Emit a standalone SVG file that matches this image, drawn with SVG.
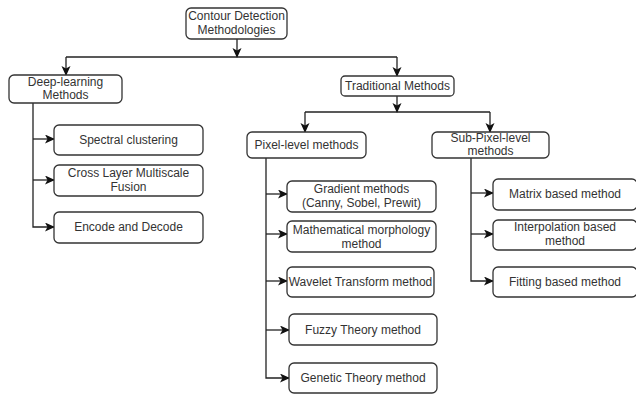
<svg xmlns="http://www.w3.org/2000/svg" width="636" height="394" viewBox="0 0 636 394">
<style>
.b{fill:#fff;stroke:#333;stroke-width:1.3}
.t{font-family:"Liberation Sans",Arial,sans-serif;font-size:12px;fill:#333;text-anchor:middle}
.c{fill:none;stroke:#222;stroke-width:1.3}
</style>
<defs>
<marker id="a" markerUnits="userSpaceOnUse" markerWidth="12" markerHeight="10" refX="9" refY="4.5" orient="auto">
<path d="M0,0 L10,4.5 L0,9 L2.5,4.5 Z" fill="#111"/>
</marker>
</defs>
<rect width="636" height="394" fill="#fff"/>
<g id="connectors">
<path class="c" d="M237,39 V57" marker-end="url(#a)"/>
<path class="c" d="M66,57 H397"/>
<path class="c" d="M66,57 V75" marker-end="url(#a)"/>
<path class="c" d="M397,57 V76" marker-end="url(#a)"/>
<path class="c" d="M397,96 V112" marker-end="url(#a)"/>
<path class="c" d="M305,112 H490"/>
<path class="c" d="M305,112 V132" marker-end="url(#a)"/>
<path class="c" d="M490,112 V132" marker-end="url(#a)"/>
<path class="c" d="M33,103 V227 H54" marker-end="url(#a)"/>
<path class="c" d="M33,139 H54" marker-end="url(#a)"/>
<path class="c" d="M33,180 H54" marker-end="url(#a)"/>
<path class="c" d="M266,158 V378 H289" marker-end="url(#a)"/>
<path class="c" d="M266,194 H287" marker-end="url(#a)"/>
<path class="c" d="M266,234 H287" marker-end="url(#a)"/>
<path class="c" d="M266,281 H287" marker-end="url(#a)"/>
<path class="c" d="M266,330 H289" marker-end="url(#a)"/>
<path class="c" d="M471,158 V281 H493" marker-end="url(#a)"/>
<path class="c" d="M471,193 H493" marker-end="url(#a)"/>
<path class="c" d="M471,234 H493" marker-end="url(#a)"/>
</g>
<g id="root"><rect class="b" x="186" y="8" width="101" height="31" rx="5"/><text class="t" x="236.5" y="20">Contour Detection</text><text class="t" x="236.5" y="34">Methodologies</text></g>
<g id="deep"><rect class="b" x="9" y="75" width="113" height="28" rx="5"/><text class="t" x="65.5" y="86">Deep-learning</text><text class="t" x="65.5" y="99">Methods</text></g>
<g id="spectral"><rect class="b" x="54" y="125" width="149" height="30" rx="5"/><text class="t" x="128.5" y="144">Spectral clustering</text></g>
<g id="cross"><rect class="b" x="54" y="165" width="149" height="31" rx="5"/><text class="t" x="128.5" y="177">Cross Layer Multiscale</text><text class="t" x="128.5" y="191">Fusion</text></g>
<g id="encode"><rect class="b" x="54" y="212" width="149" height="31" rx="5"/><text class="t" x="128.5" y="231">Encode and Decode</text></g>
<g id="traditional"><rect class="b" x="341" y="76" width="113" height="20" rx="4"/><text class="t" x="397.5" y="90">Traditional Methods</text></g>
<g id="pixel"><rect class="b" x="247" y="132" width="119" height="26" rx="5"/><text class="t" x="306.5" y="149">Pixel-level methods</text></g>
<g id="subpixel"><rect class="b" x="432" y="132" width="117" height="26" rx="5"/><text class="t" x="490.5" y="142">Sub-Pixel-level</text><text class="t" x="490.5" y="155">methods</text></g>
<g id="gradient"><rect class="b" x="287" y="181" width="149" height="31" rx="5"/><text class="t" x="361.5" y="193">Gradient methods</text><text class="t" x="361.5" y="207">(Canny, Sobel, Prewit)</text></g>
<g id="morph"><rect class="b" x="287" y="221" width="149" height="31" rx="5"/><text class="t" x="361.5" y="234">Mathematical morphology</text><text class="t" x="361.5" y="248">method</text></g>
<g id="wavelet"><rect class="b" x="287" y="267" width="147" height="30" rx="5"/><text class="t" x="360.5" y="286">Wavelet Transform method</text></g>
<g id="fuzzy"><rect class="b" x="289" y="314" width="148" height="31" rx="5"/><text class="t" x="363" y="334">Fuzzy Theory method</text></g>
<g id="genetic"><rect class="b" x="289" y="363" width="148" height="30" rx="5"/><text class="t" x="363" y="382">Genetic Theory method</text></g>
<g id="matrix"><rect class="b" x="493" y="179" width="144" height="31" rx="5"/><text class="t" x="565" y="198">Matrix based method</text></g>
<g id="interp"><rect class="b" x="493" y="220" width="144" height="30" rx="5"/><text class="t" x="565" y="231">Interpolation based</text><text class="t" x="565" y="245">method</text></g>
<g id="fitting"><rect class="b" x="493" y="267" width="144" height="30" rx="5"/><text class="t" x="565" y="286">Fitting based method</text></g>
</svg>
